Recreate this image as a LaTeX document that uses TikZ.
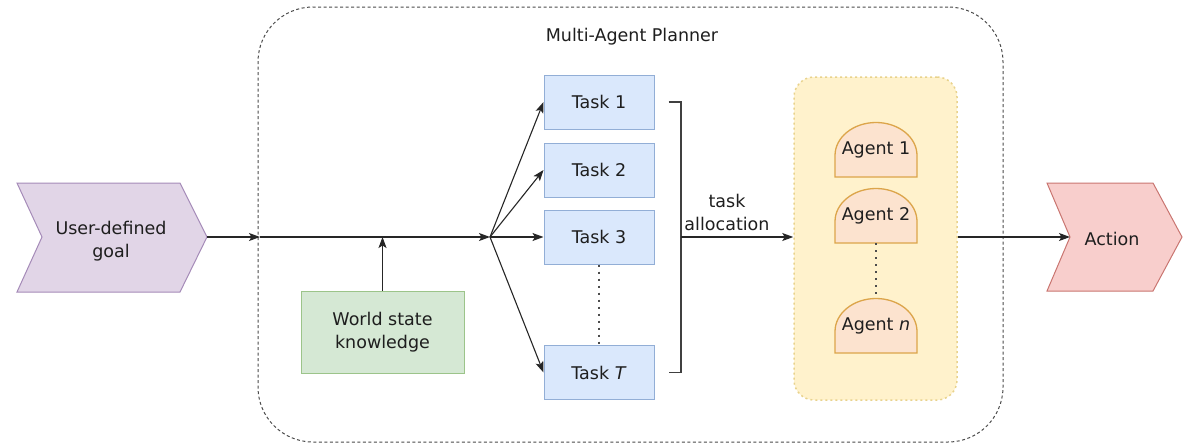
\documentclass[tikz,border=0pt]{standalone}
\usepackage{fontspec}
\setmainfont{DejaVu Sans}
\usetikzlibrary{arrows.meta}
\definecolor{txt}{HTML}{1E1E1E}
\definecolor{goalfill}{HTML}{E1D5E7}
\definecolor{goalline}{HTML}{A58BB8}
\definecolor{actfill}{HTML}{F8CECC}
\definecolor{actline}{HTML}{C97570}
\definecolor{taskfill}{HTML}{DAE8FC}
\definecolor{taskline}{HTML}{92AED6}
\definecolor{worldfill}{HTML}{D5E8D4}
\definecolor{worldline}{HTML}{9CC48A}
\definecolor{agfill}{HTML}{FFF2CC}
\definecolor{agline}{HTML}{E8D28C}
\definecolor{domefill}{HTML}{FCE3CF}
\definecolor{domeline}{HTML}{DCA54A}
\definecolor{planline}{HTML}{4A4A4A}
\newcommand{\agentdome}[4]{%
  \draw[domestyle] (#1-41,#2+27.5) -- (#1-41,#2+6) arc[start angle=180,end angle=0,x radius=41pt,y radius=33pt] -- (#1+41,#2+27.5) -- cycle;
  \node[agenttext] (#3) at (#1,#2) {#4};}
\begin{document}
\begin{tikzpicture}[x=1pt,y=-1pt,
  font=\fontsize{17.5}{23}\selectfont,
  every node/.style={text=txt},
  arr/.style={draw=black!85, line width=1.1pt, -{Stealth[length=11pt,width=8pt,inset=2.5pt]}},
  plainline/.style={draw=black!75, line width=1.3pt},
  dotline/.style={draw=black!70, line width=2.2pt, dash pattern=on 2pt off 5pt},
  taskbox/.style={rectangle, minimum width=110pt, minimum height=54pt, fill=taskfill, draw=taskline, line width=1pt, inner sep=0pt},
  domestyle/.style={fill=domefill, draw=domeline, line width=1.3pt},
  agenttext/.style={rectangle, minimum width=82pt, minimum height=55pt, inner sep=0pt},
  chevgoal/.style={fill=goalfill, draw=goalline, line width=1pt},
  chevact/.style={fill=actfill, draw=actline, line width=1pt}
]
\useasboundingbox (0,0) rectangle (1188,445);

% planner frame
\node[rectangle, rounded corners=55pt, minimum width=745pt, minimum height=435pt, draw=planline, line width=1pt, dash pattern=on 3pt off 2.5pt, inner sep=0pt] (planner) at (630.5,224.5) {};
\node (title) at (632,37) {Multi-Agent Planner};

% goal chevron
\draw[chevgoal] (17,183) -- (180,183) -- (207,237) -- (180,292) -- (17,292) -- (42,237) -- cycle;
\node[align=center] (goal) at (111,241) {User-defined\\goal};
\coordinate (goaltip) at (207,237);

% action chevron
\draw[chevact] (1047,183) -- (1153,183) -- (1182,237) -- (1153,291) -- (1047,291) -- (1070,237) -- cycle;
\node (action) at (1112,239) {Action};
\coordinate (actnotch) at (1070,237);

% main line
\coordinate (b) at (260,237);
\coordinate (j) at (490,237);
\draw[arr] (goaltip) -- (b);
\draw[arr] (b) -- (j);

% world state
\node[rectangle, minimum width=163pt, minimum height=82pt, fill=worldfill, draw=worldline, line width=1pt, align=center, inner sep=0pt] (world) at (382.5,332) {World state\\knowledge};
\draw[arr] (world.north) -- (world.north |- j);

% tasks
\node[taskbox] (t1) at (599,102) {Task 1};
\node[taskbox] (t2) at (599,170) {Task 2};
\node[taskbox] (t3) at (599,237) {Task 3};
\node[taskbox] (tT) at (599,372.5) {Task \textit{T}};
\draw[dotline] (t3.south) -- (tT.north);
\foreach \t in {t1,t2,t3,tT}{\draw[arr] (j) -- (\t.west);}

% bracket
\coordinate (bt) at (681,102);
\coordinate (bb) at (681,372.5);
\coordinate (bm) at (681,237);
\draw[plainline] ([xshift=14pt]t1.east) -- (bt) -- (bb) -- ([xshift=14pt]tT.east);
\node[align=center] (alloc) at (727,212) {task\\allocation};

% agents
\node[rectangle, rounded corners=20pt, minimum width=163pt, minimum height=323pt, fill=agfill, draw=agline, line width=1.5pt, dash pattern=on 2pt off 3pt, inner sep=0pt] (agents) at (875.5,238.5) {};
\draw[arr] (bm) -- (bm -| agents.west);
\agentdome{876}{149.5}{a1}{Agent 1}
\agentdome{876}{215.5}{a2}{Agent 2}
\agentdome{876}{325.5}{an}{Agent \textit{n}}
\draw[dotline] (a2.south) -- (an.north);

\draw[arr] (actnotch -| agents.east) -- (actnotch);
\end{tikzpicture}
\end{document}
